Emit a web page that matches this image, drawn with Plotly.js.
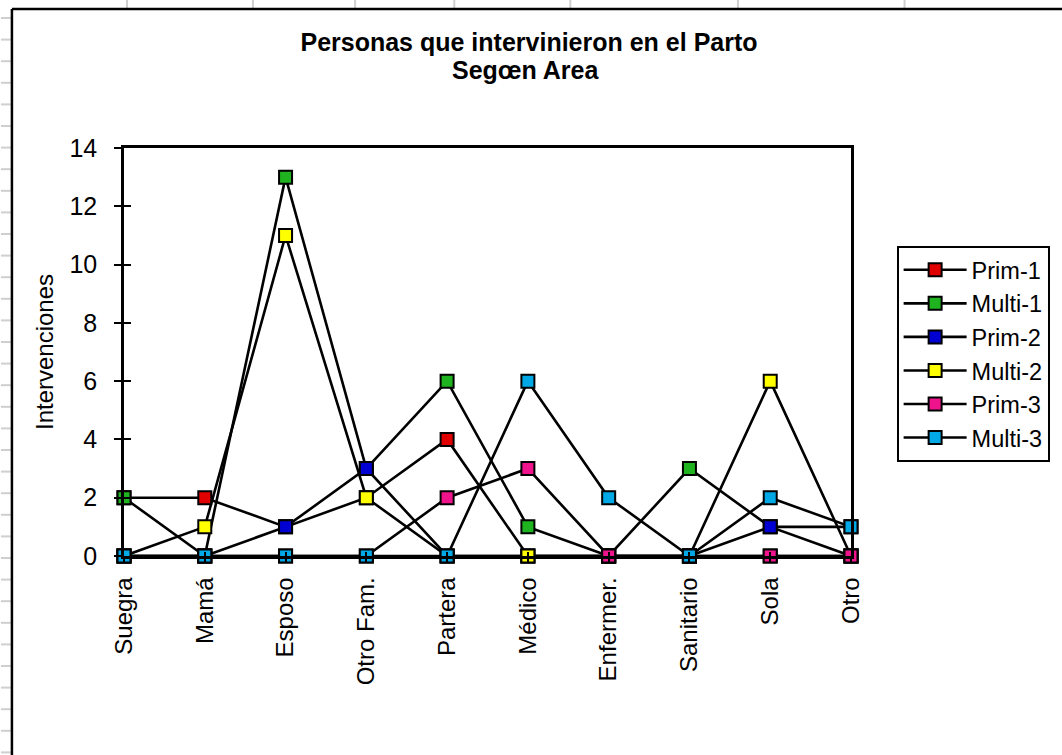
<!DOCTYPE html>
<html>
<head>
<meta charset="utf-8">
<script src="https://cdn.plot.ly/plotly-3.0.1.min.js"></script>
<style>
  html, body { margin: 0; padding: 0; background: #ffffff; }
  #chart { width: 1062px; height: 755px; }
</style>
</head>
<body>
<div id="chart"></div>
<script>
// Who took part in the delivery, by area
const categories = ['Suegra', 'Mamá', 'Esposo', 'Otro Fam.', 'Partera', 'Médico', 'Enfermer.', 'Sanitario', 'Sola', 'Otro'];

const prim1  = [2, 2, 1, 2, 4, 0, 0, 0, 0, 0];
const multi1 = [2, 0, 13, 3, 6, 1, 0, 3, 1, 0];
const prim2  = [0, 0, 1, 3, 0, 0, 0, 0, 1, 1];
const multi2 = [0, 1, 11, 2, 0, 0, 0, 0, 6, 0];
const prim3  = [0, 0, 0, 0, 2, 3, 0, 0, 0, 0];
const multi3 = [0, 0, 0, 0, 0, 6, 2, 0, 2, 1];

const seriesNames  = ['Prim-1', 'Multi-1', 'Prim-2', 'Multi-2', 'Prim-3', 'Multi-3'];
const seriesValues = [prim1, multi1, prim2, multi2, prim3, multi3];
const seriesColors = ['#E00000', '#1FB31F', '#0000D2', '#FFFF00', '#F0148C', '#00A8E6'];

const yTicks = [0, 2, 4, 6, 8, 10, 12, 14];

const FONT = 'Arial, "Liberation Sans", sans-serif';

const traces = seriesNames.map((name, i) => ({
  type: 'scatter',
  mode: 'lines+markers',
  name: name,
  x: categories.map((c, k) => k),
  y: seriesValues[i],
  cliponaxis: false,
  line: { color: '#000000', width: 2.6 },
  marker: { symbol: 'square', size: 13, color: seriesColors[i], line: { color: '#000000', width: 2 } },
  hoverinfo: 'x+y+name'
}));

// Plot area in pixels: left 124, right 857, top 148, bottom 556
const PL = 124, PR = 857, PT = 148, PB = 556;
const px = v => (v - PL) / (PR - PL);
const py = v => (PB - v) / (PB - PT);

const shapes = [];
// spreadsheet cell lines behind the chart object
[127, 254, 357, 457, 574, 743, 911].forEach(xv => {
  shapes.push({ type: 'line', xref: 'paper', yref: 'paper', layer: 'below',
    x0: px(xv), x1: px(xv), y0: py(0), y1: py(9),
    line: { color: '#CFCFCF', width: 2 } });
});
for (let yv = 18; yv < 755; yv += 21.6) {
  shapes.push({ type: 'line', xref: 'paper', yref: 'paper', layer: 'below',
    x0: px(0), x1: px(10), y0: py(yv), y1: py(yv),
    line: { color: '#CFCFCF', width: 2 } });
}
// chart object frame
shapes.push({ type: 'line', xref: 'paper', yref: 'paper',
  x0: px(11), x1: px(1070), y0: py(9), y1: py(9), line: { color: '#000000', width: 2.5 } });
shapes.push({ type: 'line', xref: 'paper', yref: 'paper',
  x0: px(11), x1: px(11), y0: py(9), y1: py(760), line: { color: '#000000', width: 2.5 } });

const layout = {
  width: 1062,
  height: 755,
  paper_bgcolor: '#ffffff',
  plot_bgcolor: '#ffffff',
  margin: { l: PL, r: 1062 - PR, t: PT, b: 755 - PB, pad: 0 },
  font: { family: FONT, color: '#000000', size: 24 },
  title: {
    text: '<b>Personas que intervinieron en el Parto</b>',
    font: { family: FONT, size: 25, color: '#000000' },
    x: 529 / 1062, xref: 'container', xanchor: 'center',
    y: 1 - 42 / 755, yref: 'container', yanchor: 'middle'
  },
  annotations: [{
    text: '<b>Segœn Area</b>',
    font: { family: FONT, size: 25, color: '#000000' },
    xref: 'paper', yref: 'paper',
    x: px(529), y: py(70), xanchor: 'center', yanchor: 'middle',
    showarrow: false
  }],
  xaxis: {
    type: 'linear',
    range: [0, categories.length - 1],
    tickmode: 'array',
    tickvals: categories.map((c, k) => k),
    ticktext: categories,
    tickangle: -90,
    ticks: 'outside', ticklen: 4, tickwidth: 2, tickcolor: '#000000',
    ticklabelstandoff: 5,
    showline: true, linecolor: '#000000', linewidth: 2.5, mirror: true,
    showgrid: false, zeroline: false,
    tickfont: { family: FONT, size: 24, color: '#000000' },
    fixedrange: true
  },
  yaxis: {
    range: [0, 14],
    tickmode: 'array',
    tickvals: yTicks,
    ticktext: yTicks.map(String),
    ticks: 'outside', ticklen: 7, tickwidth: 2, tickcolor: '#000000',
    ticklabelstandoff: 12,
    showline: true, linecolor: '#000000', linewidth: 2.5, mirror: true,
    showgrid: false, zeroline: false,
    tickfont: { family: FONT, size: 25, color: '#000000' },
    title: { text: 'Intervenciones', font: { family: FONT, size: 24, color: '#000000' }, standoff: 10 },
    automargin: true,
    fixedrange: true
  },
  // second copies of the axes carry the inner half of the crossing tick marks
  xaxis2: {
    overlaying: 'x', range: [0, categories.length - 1],
    tickmode: 'array', tickvals: categories.map((c, k) => k),
    ticks: 'inside', ticklen: 4, tickwidth: 2, tickcolor: '#000000',
    showticklabels: false, showline: false, showgrid: false, zeroline: false,
    side: 'bottom', anchor: 'y', fixedrange: true
  },
  yaxis2: {
    overlaying: 'y', range: [0, 14],
    tickmode: 'array', tickvals: yTicks,
    ticks: 'inside', ticklen: 7, tickwidth: 2, tickcolor: '#000000',
    showticklabels: false, showline: false, showgrid: false, zeroline: false,
    side: 'left', anchor: 'x', fixedrange: true
  },
  showlegend: true,
  legend: {
    x: px(903), xanchor: 'left',
    y: py(246), yanchor: 'top',
    bgcolor: '#ffffff',
    bordercolor: '#000000', borderwidth: 2,
    font: { family: FONT, size: 23.5, color: '#000000' },
    itemwidth: 63
  },
  shapes: shapes
};

// an empty trace keeps the secondary axes drawn
traces.push({ type: 'scatter', x: [], y: [], xaxis: 'x2', yaxis: 'y2', showlegend: false, hoverinfo: 'skip' });

Plotly.newPlot('chart', traces, layout, { displayModeBar: false });
</script>
</body>
</html>
